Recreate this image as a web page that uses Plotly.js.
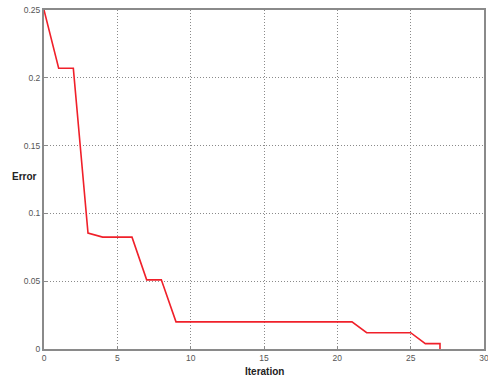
<!DOCTYPE html>
<html>
<head>
<meta charset="utf-8">
<script src="https://cdn.plot.ly/plotly-3.0.1.min.js"></script>
<style>html,body{margin:0;padding:0;background:#fff;}#chart{width:488px;height:376px;}</style>
</head>
<body>
<div id="chart"></div>
<script>
var iterations = [0,1,2,3,4,5,6,7,8,9,10,11,12,13,14,15,16,17,18,19,20,21,22,23,24,25,26,27,27];
var errors = [0.25,0.207,0.207,0.0855,0.0825,0.0825,0.0825,0.051,0.051,0.02,0.02,0.02,0.02,0.02,0.02,0.02,0.02,0.02,0.02,0.02,0.02,0.02,0.012,0.012,0.012,0.012,0.004,0.004,0];
var xTicks = [0,5,10,15,20,25,30];
var yTicks = [0,0.05,0.1,0.15,0.2,0.25];
var yTickLabels = ['0','0.05','0.1','0.15','0.2','0.25'];

var trace = {
  x: iterations, y: errors, type: 'scatter', mode: 'lines',
  line: {color: '#f0202a', width: 1.6},
  hoverinfo: 'skip'
};
var axisCommon = {
  showline: true, linecolor: '#8a8a8a', linewidth: 2, mirror: true,
  showgrid: true, gridcolor: '#8a8a8a', griddash: '1px,2px', gridwidth: 1,
  zeroline: false, ticks: 'inside', ticklen: 3, tickcolor: '#8a8a8a',
  ticklabeloverflow: 'allow',
  tickfont: {family: 'Liberation Sans, Arial, sans-serif', size: 8.5, color: '#555'}
};
var layout = {
  width: 488, height: 376,
  margin: {l: 44, r: 4, t: 10, b: 27},
  paper_bgcolor: '#fff', plot_bgcolor: '#fff',
  showlegend: false,
  xaxis: Object.assign({}, axisCommon, {range: [0,30], tickvals: xTicks, ticktext: xTicks.map(String)}),
  yaxis: Object.assign({}, axisCommon, {range: [0,0.25], tickvals: yTicks, ticktext: yTickLabels}),
  annotations: [
    {text: '<b>Error</b>', xref: 'paper', yref: 'paper', x: -0.012, y: 0.51, xanchor: 'right', yanchor: 'middle', showarrow: false,
     font: {family: 'Liberation Sans, Arial, sans-serif', size: 10, color: '#222'}},
    {text: '<b>Iteration</b>', xref: 'paper', yref: 'paper', x: 0.5, y: -0.045, xanchor: 'center', yanchor: 'top', showarrow: false,
     font: {family: 'Liberation Sans, Arial, sans-serif', size: 10, color: '#222'}}
  ]
};
Plotly.newPlot('chart', [trace], layout, {displayModeBar: false, staticPlot: true});
</script>
</body>
</html>
